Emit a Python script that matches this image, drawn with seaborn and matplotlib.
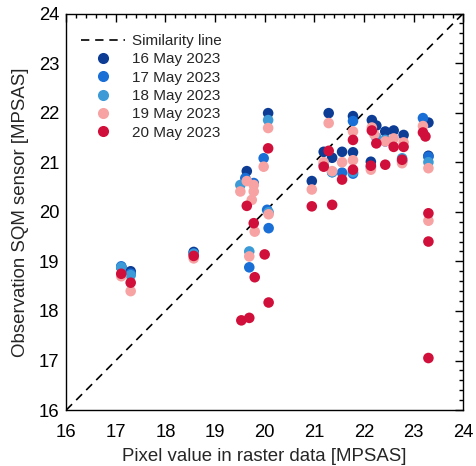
import numpy as np
import pandas as pd
import matplotlib
matplotlib.use("Agg")
import matplotlib.pyplot as plt
from matplotlib.lines import Line2D
from matplotlib.ticker import MultipleLocator
import seaborn as sns

# data (raster pixel value vs SQM observation)
dates = ["16 May 2023", "17 May 2023", "18 May 2023", "19 May 2023", "20 May 2023"]
colors = ["#0c3c94", "#1a6fd6", "#3c9bd6", "#f7a3a3", "#d0103a"]

x_16 = [17.11, 17.30, 18.57, 19.64, 20.07, 20.95, 21.19, 21.29, 21.36, 21.56, 21.78, 21.78,
        22.16, 22.25, 22.14, 22.43, 22.60, 22.80, 23.30, 23.30]
y_16 = [18.88, 18.80, 19.19, 20.82, 21.99, 20.62, 21.21, 21.99, 21.09, 21.21, 21.93, 21.20,
        21.85, 21.74, 21.01, 21.62, 21.64, 21.55, 21.80, 21.13]

x_17 = [17.11, 17.30, 18.57, 19.61, 19.78, 19.98, 20.05, 20.08, 19.69, 21.56, 21.78, 21.78,
        23.19, 23.30, 22.77, 21.36, 22.43]
y_17 = [18.90, 18.75, 19.16, 20.68, 20.58, 21.08, 20.04, 19.67, 18.88, 20.79, 20.77, 21.83,
        21.89, 21.11, 21.02, 20.80, 21.42]

x_18 = [17.11, 17.30, 18.57, 19.51, 19.69, 20.07, 20.08, 21.19, 21.36, 21.78, 22.14, 22.77,
        23.30, 22.43, 22.25]
y_18 = [18.88, 18.72, 19.15, 20.54, 19.20, 21.85, 19.99, 20.95, 20.80, 20.80, 20.90, 21.08,
        21.00, 21.45, 21.50]

x_19 = [17.11, 17.30, 18.57, 19.51, 19.64, 19.78, 19.78, 19.74, 19.80, 19.69, 20.07, 19.98,
        20.08, 20.95, 21.29, 21.36, 21.19, 21.56, 21.78, 21.78, 22.16, 22.21, 22.14, 22.43,
        22.60, 22.80, 22.77, 23.19, 23.30, 23.30]
y_19 = [18.70, 18.40, 19.06, 20.41, 20.62, 20.54, 20.41, 20.24, 19.60, 19.10, 21.69, 20.91,
        19.95, 20.45, 21.79, 20.82, 21.00, 21.00, 21.62, 21.04, 21.70, 21.56, 20.85, 21.42,
        21.48, 21.40, 20.98, 21.73, 20.88, 19.82]

x_20 = [17.11, 17.30, 18.57, 19.64, 19.78, 20.00, 19.80, 20.08, 19.53, 19.69, 20.07, 20.95,
        21.36, 21.29, 21.19, 21.56, 21.78, 21.78, 22.16, 22.25, 22.14, 22.43, 22.60, 22.80,
        22.77, 23.19, 23.24, 23.30, 23.30, 23.30]
y_20 = [18.75, 18.57, 19.11, 20.12, 19.77, 19.14, 18.68, 18.17, 17.81, 17.86, 21.28, 20.11,
        20.14, 21.23, 20.91, 20.65, 21.45, 20.85, 21.64, 21.38, 20.93, 20.95, 21.31, 21.31,
        21.05, 21.60, 21.52, 19.97, 19.40, 17.05]

xs = [x_16, x_17, x_18, x_19, x_20]
ys = [y_16, y_17, y_18, y_19, y_20]

df = pd.concat(
    [pd.DataFrame({"pixel": x, "sqm": y, "date": d}) for x, y, d in zip(xs, ys, dates)],
    ignore_index=True,
)

sns.set_style("white")
plt.rcParams["font.family"] = ["Liberation Sans", "DejaVu Sans"]

fig = plt.figure(figsize=(4.76, 4.66), dpi=100)
ax = fig.add_axes([0.139, 0.12, 0.834, 0.851])

# similarity (1:1) line
ax.plot([16, 24], [16, 24], color="black", linestyle=(0, (5, 3.5)), linewidth=1.2, zorder=1)

sns.scatterplot(data=df, x="pixel", y="sqm", hue="date", hue_order=dates,
                palette=dict(zip(dates, colors)), s=58, linewidth=0, alpha=1.0,
                legend=False, ax=ax, zorder=2)

ax.set_xlim(16, 24)
ax.set_ylim(16, 24)
ax.xaxis.set_major_locator(MultipleLocator(1))
ax.yaxis.set_major_locator(MultipleLocator(1))
ax.xaxis.set_minor_locator(MultipleLocator(0.2))
ax.yaxis.set_minor_locator(MultipleLocator(0.2))
ax.tick_params(which="both", direction="in", top=True, right=True, labelsize=13.3,
               colors="black", width=1.0)
ax.tick_params(which="major", length=6)
ax.tick_params(which="minor", length=3)
ax.tick_params(axis="x", which="major", pad=10)
ax.tick_params(axis="y", which="major", pad=5)
for sp in ax.spines.values():
    sp.set_color("black")
    sp.set_linewidth(1.0)

ax.set_xlabel("Pixel value in raster data [MPSAS]", fontsize=13.4, labelpad=5)
ax.set_ylabel("Observation SQM sensor [MPSAS]", fontsize=13.4, labelpad=7)

handles = [Line2D([0], [0], color="black", linestyle=(0, (5, 3.5)), linewidth=1.2)]
for c in colors:
    handles.append(Line2D([0], [0], marker="o", color="none", markerfacecolor=c,
                          markeredgecolor="none", markersize=8))
ax.legend(handles, ["Similarity line"] + dates, loc="upper left", frameon=False,
          fontsize=11, handlelength=2.9, handletextpad=0.45, labelspacing=0.28,
          borderaxespad=0.3, bbox_to_anchor=(0.01, 0.975))

fig.savefig("out.png", dpi=100)
